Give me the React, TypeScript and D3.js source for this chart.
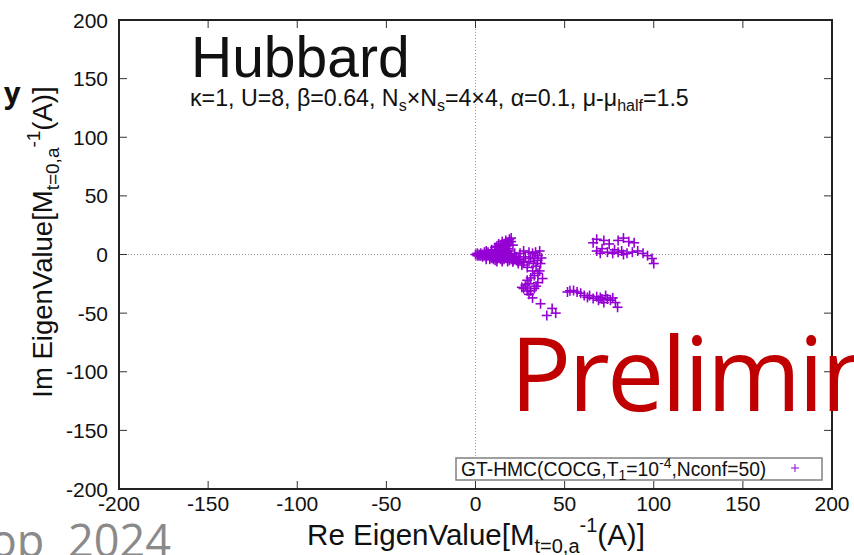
import React from "react";
import * as d3 from "d3";

// Eigenvalue samples (Re, Im) grouped by region of the complex plane
const originBlob: [number, number][] = [
  [0, 0], [1, 1], [2, 0], [3, 1], [4, 0], [5, 2], [6, 0], [7, 2], [8, 0], [9, 2],
  [10, 0], [11, 2], [12, 0], [13, 2], [14, 0], [15, 2], [16, 0], [17, 2], [18, 0], [20, 0],
  [1, -1], [3, -1], [5, -1], [7, -1], [9, -1], [11, -1], [13, -1], [15, -1], [17, -1], [19, -1],
  [2, -1], [4, -2], [6, -2], [8, -2], [10, -2], [12, -2], [14, -2], [16, -2], [18, -2], [20, -2], [22, -2],
  [6, -4], [8, -4], [10, -4], [12, -4], [14, -4], [16, -4], [18, -4], [20, -4], [22, -4], [24, -4],
  [9, -3], [13, -3], [17, -3], [21, -3], [11, -5], [15, -5], [19, -5], [23, -5],
  [12, -6], [15, -6], [18, -6], [21, -6], [24, -6], [27, -6],
  [6, 3], [9, 4], [12, 4], [16, 4], [19, 3], [14, 3], [18, 5],
  [12, 7], [14, 8], [16, 9], [18, 10], [17, 12], [19, 13], [20, 14], [15, 11], [13, 9],
  [11, 6], [20, 11], [21, 8], [17, 7], [19, 8], [15, 6]
];

const middleBand: [number, number][] = [
  [25, 1], [30, 2], [33.7, 2], [35, -1], [32, 1], [34.8, -5], [32.5, -7.7], [29, -11],
  [27, -6.8], [24, -7.7], [36.5, -7.7], [31, -3.4], [21, -6], [27, 3], [36, 3], [23, -2],
  [25, -4], [28, -2], [30, -6], [33, -3], [37, -3], [34, -10], [26, -9], [22, 1]
];

const southArm: [number, number][] = [
  [35, -16], [37.6, -20.5], [33, -18], [29, -22], [31, -20], [28, -26], [30, -25], [31, -31],
  [33, -29], [35, -24], [32, -37], [30, -34], [36.5, -42], [43, -46], [40, -52], [45, -50],
  [27, -29], [34, -27], [26, -28], [36, -14], [32, -14], [29, -31]
];

const eastUpper: [number, number][] = [
  [66, 10], [68, 13], [72, 12], [75, 9], [80, 12], [83, 14], [86, 11], [89, 10],
  [68, 3], [71, 5], [74, 2], [77, 1], [80, 2], [83, 0], [85, 1], [88, 2], [91, 3],
  [96.5, -1], [99, -3.4], [100, -7.7], [70, 1], [78, 4], [82, 3], [94, 1]
];

const eastLower: [number, number][] = [
  [51.6, -32], [55, -30.7], [57, -32], [59, -33], [61, -35], [62.8, -36.6], [64, -35],
  [66, -37.5], [68, -36], [70, -36.6], [71, -38], [72, -41], [74, -38], [75.7, -39],
  [77, -37], [78.5, -41], [79.7, -45], [69, -39], [73, -35], [53, -31]
];

const tickValues = [-200, -150, -100, -50, 0, 50, 100, 150, 200];

const W = 854;
const H = 555;
const plot = { left: 119, right: 832, top: 20, bottom: 489 };
const font = "'Liberation Sans', Arial, Helvetica, sans-serif";
const slideFont = "'Open Sans', 'Noto Sans', sans-serif";
const markColor = "#9400d3";

export default function App() {
  const x = d3.scaleLinear().domain([-200, 200]).range([plot.left, plot.right]);
  const y = d3.scaleLinear().domain([-200, 200]).range([plot.bottom, plot.top]);
  const allPoints = [...originBlob, ...middleBand, ...southArm, ...eastUpper, ...eastLower];
  const arm = 5;
  const tickLen = 8;

  return (
    <svg
      width={W}
      height={H}
      viewBox={`0 0 ${W} ${H}`}
      style={{ position: "absolute", left: 0, top: 0, background: "#fff" }}
    >
      <rect x={0} y={0} width={W} height={H} fill="#fff" />

      {/* zero axes */}
      <line x1={x(0)} x2={x(0)} y1={plot.top} y2={plot.bottom} stroke="#9a9a9a" strokeWidth={1} strokeDasharray="1,2" />
      <line x1={plot.left} x2={plot.right} y1={y(0)} y2={y(0)} stroke="#9a9a9a" strokeWidth={1} strokeDasharray="1,2" />

      {/* ticks on all four sides */}
      {tickValues.map((v) => (
        <g key={`t${v}`} stroke="#333" strokeWidth={1}>
          <line x1={x(v)} x2={x(v)} y1={plot.bottom} y2={plot.bottom - tickLen} />
          <line x1={x(v)} x2={x(v)} y1={plot.top} y2={plot.top + tickLen} />
          <line x1={plot.left} x2={plot.left + tickLen} y1={y(v)} y2={y(v)} />
          <line x1={plot.right} x2={plot.right - tickLen} y1={y(v)} y2={y(v)} />
        </g>
      ))}

      {/* tick labels */}
      {tickValues.map((v) => (
        <text key={`yl${v}`} x={plot.left - 11} y={y(v)} dy="0.36em" textAnchor="end" fontFamily={font} fontSize={21} fill="#111">
          {v}
        </text>
      ))}
      {tickValues.map((v) => (
        <text key={`xl${v}`} x={x(v)} y={plot.bottom + 22} textAnchor="middle" fontFamily={font} fontSize={21} fill="#111">
          {v}
        </text>
      ))}

      {/* data points */}
      <g stroke={markColor} strokeWidth={1.6}>
        {allPoints.map(([re, im], i) => (
          <g key={`p${i}`}>
            <line x1={x(re) - arm} x2={x(re) + arm} y1={y(im)} y2={y(im)} />
            <line x1={x(re)} x2={x(re)} y1={y(im) - arm} y2={y(im) + arm} />
          </g>
        ))}
      </g>

      {/* title and parameters */}
      <text x={191} y={77} fontFamily={font} fontSize={57} fill="#111">Hubbard</text>
      <text x={190} y={106} fontFamily={font} fontSize={23.2} fill="#111">
        κ=1, U=8, β=0.64, N<tspan dy="5" fontSize={16}>s</tspan><tspan dy="-5">×N</tspan>
        <tspan dy="5" fontSize={16}>s</tspan><tspan dy="-5">=4×4, α=0.1, μ-μ</tspan>
        <tspan dy="5" fontSize={16}>half</tspan><tspan dy="-5">=1.5</tspan>
      </text>

      {/* legend */}
      <rect x={456} y={458} width={366} height={22} fill="#fff" stroke="#808080" strokeWidth={1.5} />
      <text x={461} y={476} fontFamily={font} fontSize={19.3} fill="#111">
        GT-HMC(COCG,T<tspan dy="4" fontSize={14}>1</tspan><tspan dy="-4">=10</tspan>
        <tspan dy="-8" fontSize={14}>-4</tspan><tspan dy="8">,Nconf=50)</tspan>
      </text>
      <g stroke={markColor} strokeWidth={1}>
        <line x1={791} x2={799} y1={468} y2={468} />
        <line x1={795} x2={795} y1={464} y2={472} />
      </g>

      {/* frame */}
      <rect x={plot.left} y={plot.top} width={plot.right - plot.left} height={plot.bottom - plot.top} fill="none" stroke="#222" strokeWidth={2} />

      {/* axis titles */}
      <text x={476} y={545} textAnchor="middle" fontFamily={font} fontSize={29.5} fill="#111">
        Re EigenValue[M<tspan dy="8" fontSize={20}>t=0,a</tspan><tspan dy="-21" fontSize={20}>-1</tspan>
        <tspan dy="13">(A)]</tspan>
      </text>
      <text transform="translate(52,242) rotate(-90)" textAnchor="middle" fontFamily={font} fontSize={27.5} fill="#111">
        Im EigenValue[M<tspan dy="7" fontSize={19}>t=0,a</tspan><tspan dy="-19" fontSize={19}>-1</tspan>
        <tspan dy="12">(A)]</tspan>
      </text>

      {/* slide overlays */}
      <text x={4} y={103} fontFamily={slideFont} fontSize={29} fontWeight="bold" fill="#111">y</text>
      <text x={510} y={411} fontFamily={slideFont} fontSize={102} letterSpacing={-3} fill="#c00000">Preliminary</text>
      <text x={171} y={557} textAnchor="end" wordSpacing={12} fontFamily={slideFont} fontSize={45} fill="#8a8a8a">op 2024</text>
    </svg>
  );
}
